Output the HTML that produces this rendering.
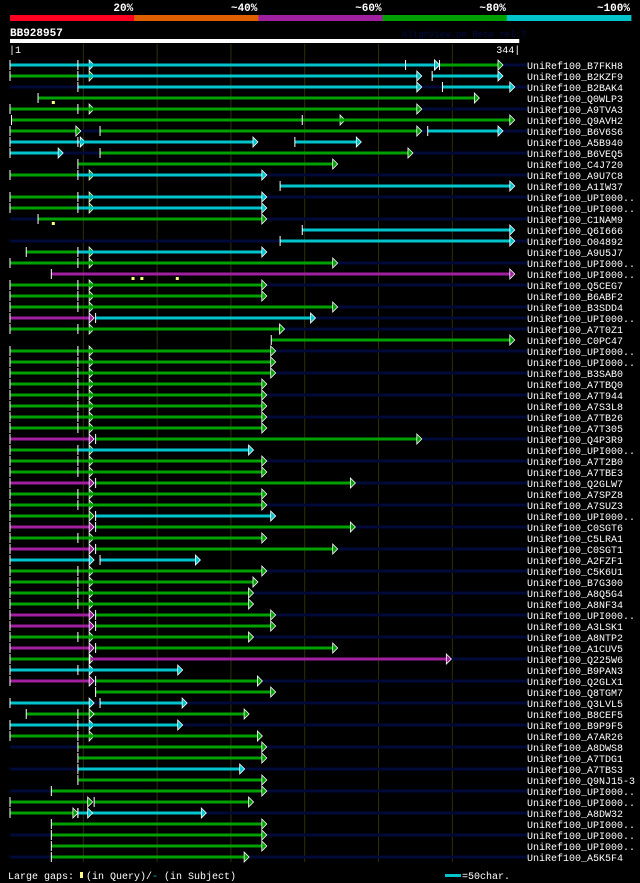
<!DOCTYPE html>
<html><head><meta charset="utf-8">
<style>
html,body{margin:0;padding:0;background:#000;}
body{width:640px;height:883px;overflow:hidden;font-family:"Liberation Mono",monospace;}
svg{display:block}
</style></head>
<body>
<svg id="chart" width="640" height="883" xmlns="http://www.w3.org/2000/svg"></svg>
<script>
const pctLabels = ["20%","~40%","~60%","~80%","~100%"];
const pctColors = ["#ff0022","#e06000","#a020a0","#00a000","#00c4cc"];
const queryLength = 344;
const gridTicks = [50,100,150,200,250,300];
const names = ["B7FKH8","B2KZF9","B2BAK4","Q0WLP3","A9TVA3","Q9AVH2","B6V6S6","A5B940","B6VEQ5","C4J720","A9U7C8","A1IW37","UPI000..","UPI000..","C1NAM9","Q6I666","O04892","A9U5J7","UPI000..","UPI000..","Q5CEG7","B6ABF2","B3SDD4","UPI000..","A7T0Z1","C0PC47","UPI000..","UPI000..","B3SAB0","A7TBQ0","A7T944","A7S3L8","A7TB26","A7T305","Q4P3R9","UPI000..","A7T2B0","A7TBE3","Q2GLW7","A7SPZ8","A7SUZ3","UPI000..","C0SGT6","C5LRA1","C0SGT1","A2FZF1","C5K6U1","B7G300","A8Q5G4","A8NF34","UPI000..","A3LSK1","A8NTP2","A1CUV5","Q225W6","B9PAN3","Q2GLX1","Q8TGM7","Q3LVL5","B8CEF5","B9P9F5","A7AR26","A8DWS8","A7TDG1","A7TBS3","Q9NJ15-3","UPI000..","UPI000..","A8DW32","UPI000..","UPI000..","UPI000..","A5K5F4"];
// subject extent shown as navy background line (1 = present)
const hasBg = [1,0,1,0,1,0,1,0,1,0,1,0,1,0,1,0,1,0,1,0,1,0,1,1,1,0,1,0,1,0,1,0,1,0,1,0,1,0,1,0,1,0,1,0,1,0,1,0,1,0,1,0,1,0,1,0,1,0,1,0,1,0,1,0,1,0,1,0,1,0,1,0,1];
// segments per row: [start, end, color]
const segments = [
 [[1,58,"c"],[47,292,"c"],[269,292,"c"],[292,335,"g"]],
 [[1,58,"g"],[47,280,"c"],[287,335,"c"]],
 [[47,280,"c"],[294,343,"c"]],
 [[20,319,"g"]],
 [[1,58,"g"],[47,280,"g"]],
 [[2,228,"g"],[199,343,"g"]],
 [[1,49,"g"],[62,280,"g"],[284,335,"c"]],
 [[1,52,"c"],[47,169,"c"],[194,239,"c"]],
 [[1,37,"c"],[62,274,"g"]],
 [[47,223,"g"]],
 [[1,58,"g"],[47,175,"c"]],
 [[184,343,"c"]],
 [[1,58,"g"],[47,175,"c"]],
 [[1,58,"g"],[47,175,"c"]],
 [[20,175,"g"]],
 [[199,343,"c"]],
 [[184,343,"c"]],
 [[12,58,"g"],[47,175,"c"]],
 [[1,58,"g"],[47,223,"g"]],
 [[29,343,"m"]],
 [[1,58,"g"],[47,175,"g"]],
 [[1,58,"g"],[47,175,"g"]],
 [[1,58,"g"],[47,223,"g"]],
 [[1,58,"m"],[59,208,"c"]],
 [[1,58,"g"],[47,187,"g"]],
 [[178,343,"g"]],
 [[1,58,"g"],[47,181,"g"]],
 [[1,58,"g"],[47,181,"g"]],
 [[1,58,"g"],[47,181,"g"]],
 [[1,58,"g"],[47,175,"g"]],
 [[1,58,"g"],[47,175,"g"]],
 [[1,58,"g"],[47,175,"g"]],
 [[1,58,"g"],[47,175,"g"]],
 [[1,58,"g"],[47,175,"g"]],
 [[1,58,"m"],[59,280,"g"]],
 [[1,58,"g"],[47,166,"c"]],
 [[1,58,"g"],[47,175,"g"]],
 [[1,58,"g"],[47,175,"g"]],
 [[1,58,"m"],[59,235,"g"]],
 [[1,58,"g"],[47,175,"g"]],
 [[1,58,"g"],[47,175,"g"]],
 [[1,58,"g"],[59,181,"c"]],
 [[1,58,"m"],[59,235,"g"]],
 [[1,58,"g"],[47,175,"g"]],
 [[1,58,"m"],[59,223,"g"]],
 [[1,58,"c"],[62,130,"c"]],
 [[1,58,"g"],[47,175,"g"]],
 [[1,58,"g"],[47,169,"g"]],
 [[1,58,"g"],[47,166,"g"]],
 [[1,58,"g"],[47,166,"g"]],
 [[1,58,"m"],[59,181,"g"]],
 [[1,58,"m"],[59,181,"g"]],
 [[1,58,"g"],[47,166,"g"]],
 [[1,58,"m"],[59,223,"g"]],
 [[1,58,"g"],[55,300,"m"]],
 [[1,58,"c"],[47,118,"c"]],
 [[1,58,"m"],[59,172,"g"]],
 [[59,181,"g"]],
 [[1,58,"c"],[62,121,"c"]],
 [[12,163,"g"],[47,58,"g"]],
 [[1,58,"c"],[47,118,"c"]],
 [[1,58,"g"],[47,172,"g"]],
 [[47,175,"g"]],
 [[47,175,"g"]],
 [[47,160,"c"]],
 [[47,175,"g"]],
 [[29,175,"g"]],
 [[1,57,"g"],[58,166,"g"]],
 [[1,47,"g"],[47,134,"c"],[47,57,"c"]],
 [[29,175,"g"]],
 [[29,175,"g"]],
 [[29,175,"g"]],
 [[29,163,"g"]]
];
// large gaps in query: [row, position]
const gapRows = [4,15,20,20,20];
const gapPos = [30,30,84,90,114];

const svg = document.getElementById('chart');
const NS = "http://www.w3.org/2000/svg";
const colorMap = {c:"#00c4cc", g:"#00a000", m:"#a020a0"};
const x0 = 10, pxPer = 1.476, rowY0 = 65, rowH = 11;
function xOf(p){ return x0 + (p-1)*pxPer; }
function yOf(r){ return rowY0 + r*rowH; }
function mk(tag, attrs, parent){
  const e = document.createElementNS(NS, tag);
  for (const k in attrs) e.setAttribute(k, attrs[k]);
  (parent||svg).appendChild(e);
  return e;
}
function txt(s, attrs, parent){ const t = mk('text', attrs, parent); t.textContent = s; return t; }

// percent legend
const pg = mk('g', {});


for (let i=0;i<pctLabels.length;i++){
  const r = mk('rect', {x:10+i*124.2, y:15, width:124.6, height:6, fill:pctColors[i]}, pg);
  
  
  const t = txt(pctLabels[i], {x:10+(i+1)*124.2-1, y:11, fill:"#fff", "font-size":"11", "font-weight":"bold", "text-anchor":"end", "font-family":"Liberation Mono, monospace"}, pg);
  
  
}

// title, watermark, ruler
const title = txt("BB928957", {x:10, y:36, fill:"#fff", "font-size":"11", "font-weight":"bold", "font-family":"Liberation Mono, monospace"});


const wm = txt("AlignView.pm Beta rel.7", {x:402, y:37, fill:"#000c48", "font-size":"9", "font-family":"Liberation Mono, monospace"});


const qbar = mk('rect', {x:xOf(1), y:39, width:xOf(queryLength)-xOf(1)+3, height:4, fill:"#fff"});


const l1 = txt("|1", {x:9, y:53, fill:"#fff", "font-size":"10", "font-family":"Liberation Mono, monospace"});


const l2 = txt(queryLength+"|", {x:xOf(queryLength)+4, y:53, fill:"#fff", "font-size":"10", "text-anchor":"end", "font-family":"Liberation Mono, monospace"});



// grid
for (const g of gridTicks){
  const gl = mk('line', {x1:xOf(g)+1, x2:xOf(g)+1, y1:44, y2:862, stroke:"#303008", "stroke-width":1});
  
  
}

// rows
for (let r=0;r<names.length;r++){
  const y = yOf(r);
  const rg = mk('g', {});
  
  
  if (hasBg[r]){
    const bl = mk('rect', {x:xOf(1), y:y-1.5, width:527-xOf(1), height:3, fill:"#000a38"}, rg);
    
    
  }
  for (const s of segments[r]){
    const xs = xOf(s[0]), xe = xOf(s[1]);
    const col = colorMap[s[2]];
    const ln = mk('rect', {x:xs, y:y-1.5, width:Math.max(0,xe-xs-4), height:3, fill:col}, rg);
    
    
    const tk = mk('rect', {x:xs-0.5, y:y-5, width:1, height:10, fill:"#fff"}, rg);
    
    
    const ar = mk('polygon', {points:`${xe-5},${y-5} ${xe},${y} ${xe-5},${y+5}`, fill:col, stroke:"#fff", "stroke-width":0.8}, rg);
    
    
  }
  const nm = txt("UniRef100_"+names[r], {x:527, y:y+4, fill:"#fff", "font-size":"10", "font-family":"Liberation Mono, monospace"}, rg);
  
  
}
// gap markers
for (let i=0;i<gapRows.length;i++){
  const y = yOf(gapRows[i]-1), x = xOf(gapPos[i]);
  const gm = mk('rect', {x:x-1, y:y+3, width:3, height:3, fill:"#ffff80"});
  
  
}

// bottom legend
const f1 = txt("Large gaps:", {x:8, y:879, fill:"#fff", "font-size":"10", "font-family":"Liberation Mono, monospace"});


const fm = mk('rect', {x:80, y:872, width:3, height:6, fill:"#ffff80"});


const f2 = txt("(in Query)/", {x:86, y:879, fill:"#fff", "font-size":"10", "font-family":"Liberation Mono, monospace"});


const fd = txt("-", {x:152, y:879, fill:"#00c4cc", "font-size":"10", "font-family":"Liberation Mono, monospace"});


const f3 = txt("(in Subject)", {x:164, y:879, fill:"#fff", "font-size":"10", "font-family":"Liberation Mono, monospace"});


const sb = mk('rect', {x:445, y:874, width:16, height:3, fill:"#00c4cc"});


const st = txt("=50char.", {x:462, y:879, fill:"#fff", "font-size":"10", "font-family":"Liberation Mono, monospace"});


</script>
</body></html>
